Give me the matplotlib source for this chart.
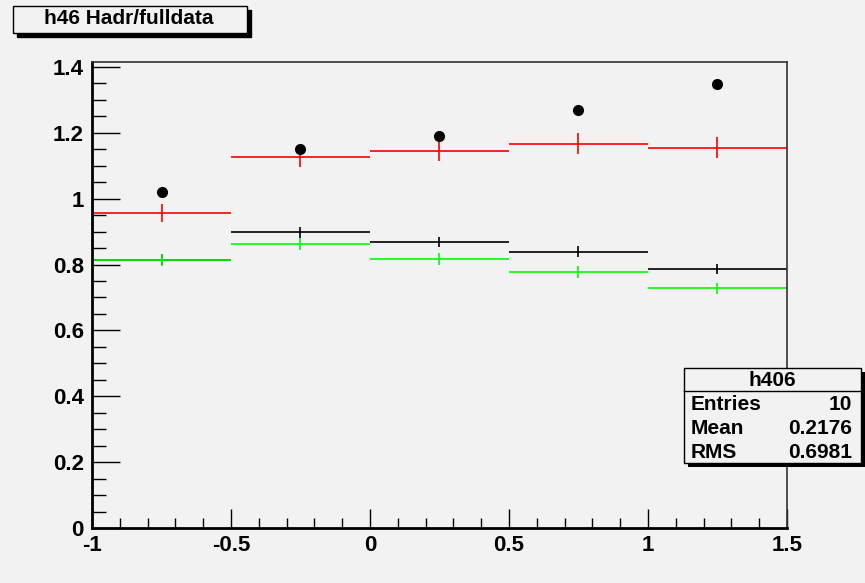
import numpy as np
import matplotlib.pyplot as plt
from matplotlib.patches import Rectangle
from matplotlib.ticker import MultipleLocator

plt.rcParams['font.family'] = ['Liberation Sans', 'DejaVu Sans']
plt.rcParams['font.weight'] = 'bold'

# bin centres (width 0.5)
centres = [-0.75, -0.25, 0.25, 0.75, 1.25]
half_width = 0.25

dots = [1.020, 1.151, 1.190, 1.269, 1.348]
red_vals = [0.957, 1.127, 1.145, 1.167, 1.155]
red_err = [0.028, 0.030, 0.030, 0.032, 0.032]
black_vals = [0.815, 0.898, 0.869, 0.839, 0.787]
black_err = [0.016, 0.016, 0.016, 0.017, 0.016]
green_vals = [0.813, 0.863, 0.817, 0.778, 0.728]
green_err = [0.018, 0.019, 0.018, 0.018, 0.017]

bg = '#f2f2f2'
fig = plt.figure(figsize=(8.65, 5.83), dpi=100, facecolor=bg)
ax = fig.add_axes([92/865, 1 - 528/583, (787-92)/865, (528-62)/583], facecolor=bg)

ax.plot(centres, dots, 'o', color='black', markersize=7, zorder=5)
for vals, errs, col in [(red_vals, red_err, 'red'),
                        (black_vals, black_err, 'black'),
                        (green_vals, green_err, '#00ff00')]:
    ax.errorbar(centres, vals, xerr=half_width, yerr=errs, fmt='none',
                ecolor=col, elinewidth=1.2, capsize=0)

ax.set_xlim(-1, 1.5)
ax.set_ylim(0, 1.415)
ax.xaxis.set_major_locator(MultipleLocator(0.5))
ax.xaxis.set_minor_locator(MultipleLocator(0.1))
ax.yaxis.set_major_locator(MultipleLocator(0.2))
ax.yaxis.set_minor_locator(MultipleLocator(0.05))
ax.set_xticks([-1, -0.5, 0, 0.5, 1, 1.5])
ax.set_xticklabels(['-1', '-0.5', '0', '0.5', '1', '1.5'])
ax.set_yticks([0, 0.2, 0.4, 0.6, 0.8, 1, 1.2, 1.4])
ax.set_yticklabels(['0', '0.2', '0.4', '0.6', '0.8', '1', '1.2', '1.4'])
ax.tick_params(axis='both', which='both', direction='in', labelsize=16,
               top=False, right=False, width=1)
ax.tick_params(axis='y', which='major', length=20, pad=6)
ax.tick_params(axis='y', which='minor', length=10)
ax.tick_params(axis='x', which='major', length=14, pad=5)
ax.tick_params(axis='x', which='minor', length=7)
for s in ['left', 'bottom']:
    ax.spines[s].set_linewidth(2)
for s in ['top', 'right']:
    ax.spines[s].set_linewidth(1.2)
    ax.spines[s].set_color('#333333')

# title box with shadow
fig.patches.append(Rectangle((17/865, 1 - 37/583), 234/865, 27/583,
                             transform=fig.transFigure, facecolor='black',
                             edgecolor='black', zorder=1))
fig.patches.append(Rectangle((13/865, 1 - 33/583), 234/865, 27/583,
                             transform=fig.transFigure, facecolor=bg,
                             edgecolor='black', linewidth=1, zorder=2))
fig.text(129/865, 1 - 19/583, 'h46 Hadr/fulldata', ha='center', va='center',
         fontsize=15, fontweight='bold', zorder=3)

# stats box with shadow
bx0, by0, bw, bh = 684, 368, 177, 95
fig.patches.append(Rectangle(((bx0+4)/865, 1 - (by0+bh+4)/583), bw/865, bh/583,
                             transform=fig.transFigure, facecolor='black',
                             zorder=6))
fig.patches.append(Rectangle((bx0/865, 1 - (by0+bh)/583), bw/865, bh/583,
                             transform=fig.transFigure, facecolor=bg,
                             edgecolor='black', linewidth=1, zorder=7))
fig.lines.append(plt.Line2D([bx0/865, (bx0+bw)/865], [1 - 391/583, 1 - 391/583],
                            transform=fig.transFigure, color='black',
                            linewidth=1, zorder=8))
fig.text((bx0+bw/2)/865, 1 - 381/583, 'h406', ha='center', va='center',
         fontsize=15, fontweight='bold', zorder=9)
rows = [('Entries', '10'), ('Mean', '0.2176'), ('RMS', '0.6981')]
for i, (k, v) in enumerate(rows):
    yy = 1 - (405 + i*24)/583
    fig.text((bx0+7)/865, yy, k, ha='left', va='center', fontsize=15,
             fontweight='bold', zorder=9)
    fig.text((bx0+bw-9)/865, yy, v, ha='right', va='center', fontsize=15,
             fontweight='bold', zorder=9)

fig.savefig('out.png', dpi=100, facecolor=bg)
